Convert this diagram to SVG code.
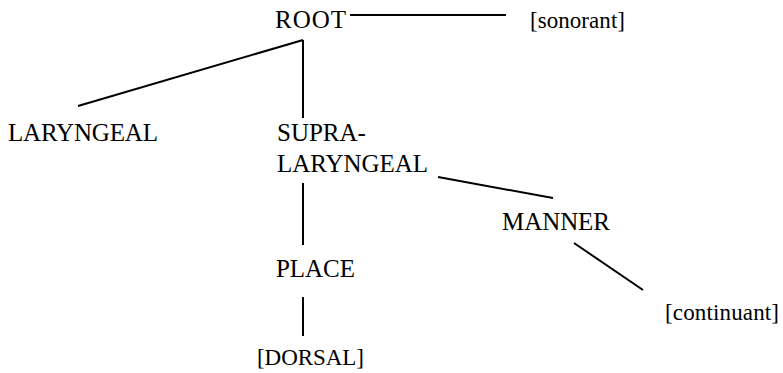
<svg xmlns="http://www.w3.org/2000/svg" width="783" height="373" viewBox="0 0 783 373">
<style>
text { font-family: "Liberation Serif", "Times New Roman", serif; font-size: 25px; fill: #000; }
text.f { font-size: 23px; }
.c line { stroke: #000; stroke-width: 2; }
</style>
<rect width="783" height="373" fill="#fff"/>
<g class="c" id="connectors">
<line x1="350" y1="15" x2="506" y2="15"/>
<line x1="303" y1="40" x2="78" y2="106"/>
<line x1="303" y1="40" x2="303" y2="118"/>
<line x1="438" y1="177" x2="553" y2="198"/>
<line x1="574" y1="243" x2="643" y2="290"/>
<line x1="303" y1="183" x2="303" y2="245"/>
<line x1="303" y1="297" x2="303" y2="336"/>
</g>
<g id="root"><text x="275" y="28" textLength="71">ROOT</text></g>
<g id="sonorant"><text class="f" x="530" y="28" textLength="95">[sonorant]</text></g>
<g id="laryngeal"><text x="8" y="141" textLength="150">LARYNGEAL</text></g>
<g id="supralaryngeal"><text x="277" y="141">SUPRA-</text><text x="277" y="172" textLength="151">LARYNGEAL</text></g>
<g id="manner"><text x="502" y="230" textLength="108">MANNER</text></g>
<g id="place"><text x="276" y="277" textLength="79">PLACE</text></g>
<g id="continuant"><text class="f" x="665" y="320" textLength="114">[continuant]</text></g>
<g id="dorsal"><text class="f" x="257" y="365" textLength="107">[DORSAL]</text></g>
</svg>
